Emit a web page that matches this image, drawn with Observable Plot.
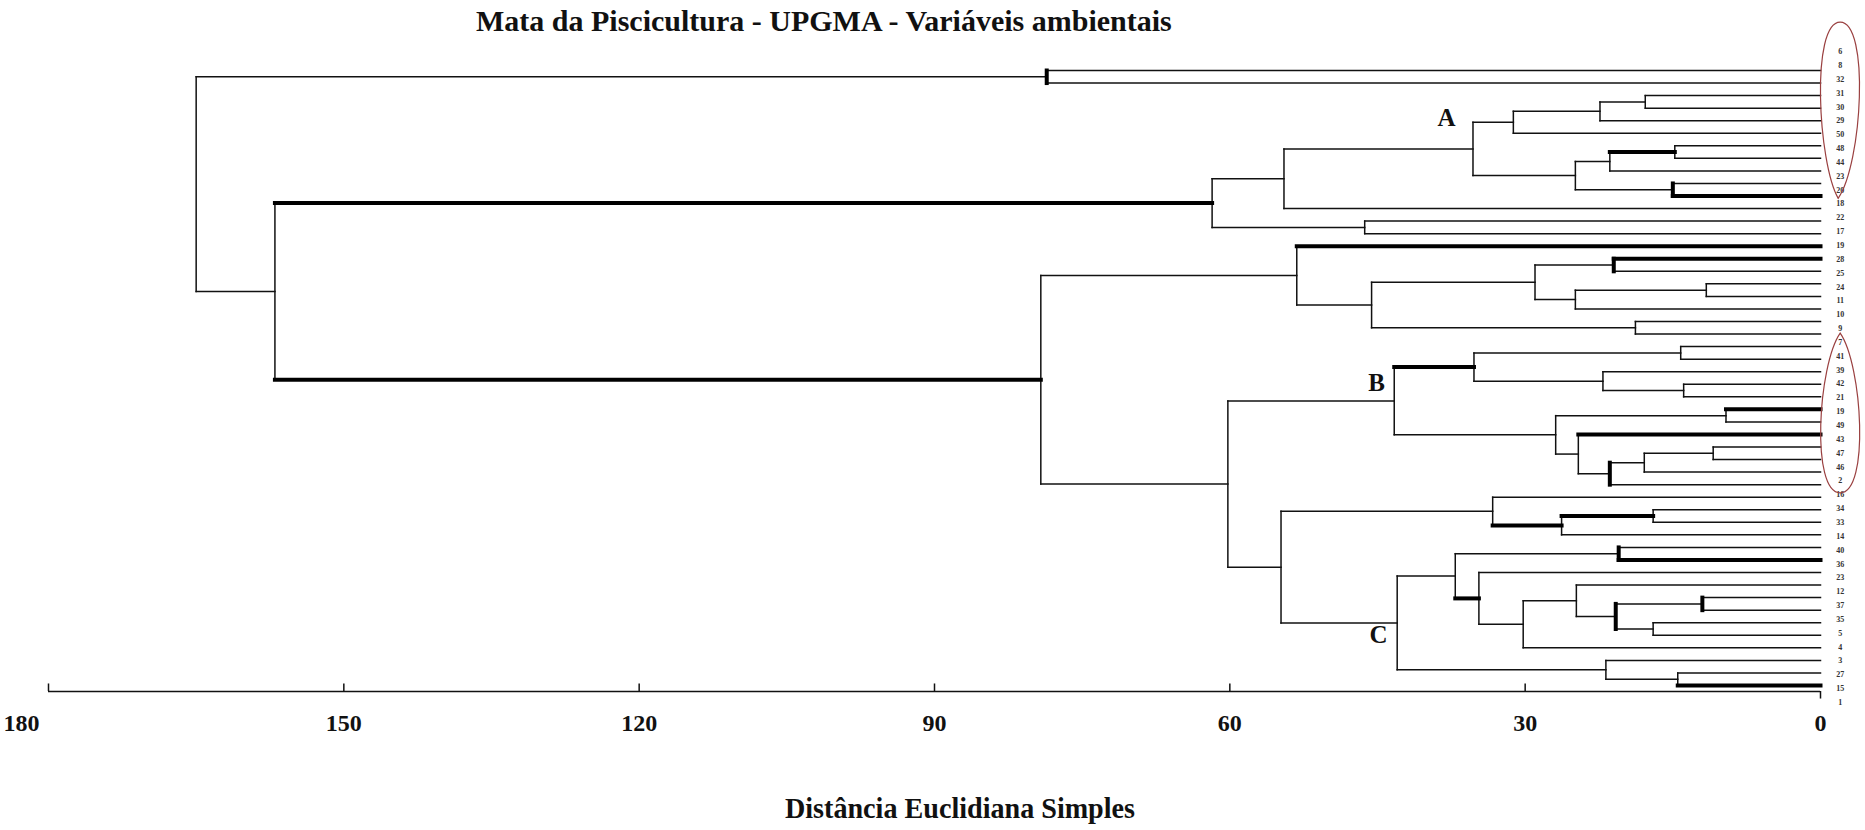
<!DOCTYPE html>
<html>
<head>
<meta charset="utf-8">
<script src="https://cdn.jsdelivr.net/npm/d3@7"></script>
<script src="https://cdn.jsdelivr.net/npm/@observablehq/plot@0.6"></script>
<style>
  html, body { margin: 0; padding: 0; background: #fff; }
  body { width: 1865px; height: 830px; overflow: hidden; position: relative; font-family: "Liberation Serif", "DejaVu Serif", serif; }
  #title { position: absolute; left: 0; top: 0; display: block; }
  #xtitle { display: block; }
  #chart svg { display: block; }
</style>
</head>
<body>
<div id="chart"></div>
<svg id="xtitle" width="1865" height="40"></svg>
<svg id="title" width="1865" height="42"></svg>
<script>
// ---------- data ----------
const leafCount = 50;

// labels column, top to bottom, as printed at the right of the dendrogram
const leafLabels = ["6","8","32","31","30","29","50","48","44","23","20","18","22","17","19","28","25","24","11","10",
  "9","7","41","39","42","21","19","49","43","47","46","2","16","34","33","14","40","36","23","12",
  "37","35","5","4","3","27","15","1"];

// UPGMA merges: [id, child A, child B, distance]; numbers = leaf rows (top to bottom)
const merges = [
  ["m0", 0, 1, 78.6],
  ["m1", 2, 3, 17.8],
  ["m2", "m1", 4, 22.4],
  ["m3", "m2", 5, 31.2],
  ["m4", 6, 7, 14.8],
  ["m5", "m4", 8, 21.4],
  ["m6", 9, 10, 15.0],
  ["m7", "m5", "m6", 24.9],
  ["m8", "m3", "m7", 35.3],
  ["m9", "m8", 11, 54.5],
  ["m10", 12, 13, 46.3],
  ["m11", "m9", "m10", 61.8],
  ["m12", 15, 16, 21.0],
  ["m13", 17, 18, 11.6],
  ["m14", "m13", 19, 24.9],
  ["m15", "m12", "m14", 29.0],
  ["m16", 20, 21, 18.8],
  ["m17", "m15", "m16", 45.6],
  ["m18", 14, "m17", 53.2],
  ["m19", 22, 23, 14.2],
  ["m20", 25, 26, 13.9],
  ["m21", 24, "m20", 22.1],
  ["m22", "m19", "m21", 35.2],
  ["m23", 27, 28, 9.6],
  ["m24", 30, 31, 10.9],
  ["m25", "m24", 32, 17.9],
  ["m26", "m25", 33, 21.4],
  ["m27", 29, "m26", 24.6],
  ["m28", "m23", "m27", 26.9],
  ["m29", "m22", "m28", 43.3],
  ["m30", 35, 36, 17.0],
  ["m31", "m30", 37, 26.3],
  ["m32", 34, "m31", 33.3],
  ["m33", 38, 39, 20.5],
  ["m34", 42, 43, 12.0],
  ["m35", 44, 45, 17.0],
  ["m36", "m34", "m35", 20.8],
  ["m37", 41, "m36", 24.8],
  ["m38", "m37", 46, 30.2],
  ["m39", 40, "m38", 34.7],
  ["m40", "m33", "m39", 37.1],
  ["m41", 48, 49, 14.5],
  ["m42", 47, "m41", 21.8],
  ["m43", "m40", "m42", 43.0],
  ["m44", "m32", "m43", 54.8],
  ["m45", "m29", "m44", 60.2],
  ["m46", "m18", "m45", 79.2],
  ["m47", "m11", "m46", 157.0],
  ["m48", "m0", "m47", 165.0]
];

// links drawn heavier in the original figure
const boldLinks = ["m4", 10, "m11", "m46", 14, 15, "m22", 29, 27, "m30", "m31", 39, "m39", 49];
const boldVerticals = ["m0", "m6", "m12", "m26", "m33", "m34", "m36"];

const xTicks = [180, 150, 120, 90, 60, 30, 0];

const clusterLetters = [
  {text: "A", d: 38.0, row: 3.75},
  {text: "B", d: 45.1, row: 24.9},
  {text: "C", d: 44.9, row: 45.0}
];

// label groups circled in red (indices in leafLabels) and where the loop is pointed
const circledGroups = [
  {first: 0, last: 10, padTop: 2.3, padBottom: 0.7, point: "bottom"},
  {first: 21, last: 31, padTop: 0.7, padBottom: 1.0, point: "top"}
];

// ---------- layout ----------
const axisRow = 49.48;           // row level of the x axis line
const labelFirstRow = -1.51, labelRowStep = 1.1035;  // label column spacing (in leaf rows)

const pos = new Map(), hgt = new Map();
for (let i = 0; i < leafCount; i++) { pos.set(i, i); hgt.set(i, 0); }
for (const [id, a, b, h] of merges) { pos.set(id, (pos.get(a) + pos.get(b)) / 2); hgt.set(id, h); }

const segs = [];
for (const [id, a, b, h] of merges) {
  segs.push({x1: h, x2: h, y1: pos.get(a), y2: pos.get(b), bold: boldVerticals.includes(id)});
  for (const c of [a, b]) {
    segs.push({x1: h, x2: hgt.get(c), y1: pos.get(c), y2: pos.get(c), bold: boldLinks.includes(c)});
  }
}

const labelRows = leafLabels.map((t, i) => ({t, row: labelFirstRow + i * labelRowStep}));

const serif = "Liberation Serif";
const chart = Plot.plot({
  width: 1865,
  height: 790,
  marginLeft: 48,
  marginRight: 45,
  marginTop: 70,
  marginBottom: 99,
  x: {domain: [180, 0], axis: null},
  y: {domain: [0, axisRow], reverse: true, axis: null},
  style: {background: "#fff", fontFamily: serif},
  marks: [
    Plot.link(segs.filter(d => !d.bold), {x1: "x1", y1: "y1", x2: "x2", y2: "y2", stroke: "#111", strokeWidth: 1.5, strokeLinecap: "square"}),
    Plot.link(segs.filter(d => d.bold), {x1: "x1", y1: "y1", x2: "x2", y2: "y2", stroke: "#000", strokeWidth: 4, strokeLinecap: "square"}),
    Plot.ruleY([axisRow], {x1: 180, x2: 0, stroke: "#111", strokeWidth: 1.6}),
    Plot.ruleX(xTicks.filter(t => t > 0), {x: d => d, y1: axisRow, y2: axisRow - 0.6, stroke: "#111", strokeWidth: 1.5}),
    Plot.ruleX(xTicks.filter(t => t === 0), {x: d => d, y1: axisRow, y2: axisRow + 0.6, stroke: "#111", strokeWidth: 1.5}),
    Plot.text(xTicks.filter(t => t < 180), {x: d => d, y: 52.0, text: d => String(d), fontSize: 24, fontWeight: "bold", fontFamily: serif, fill: "#111"}),
    Plot.text(xTicks.filter(t => t === 180), {x: d => d, y: 52.0, dx: -27, text: d => String(d), fontSize: 24, fontWeight: "bold", fontFamily: serif, fill: "#111"}),
    Plot.text(labelRows, {x: -2.0, y: "row", text: "t", fontSize: 8, fontWeight: "bold", fontFamily: serif, fill: "#333"}),
    Plot.text(clusterLetters, {x: "d", y: "row", text: "text", fontSize: 25, fontWeight: "bold", fontFamily: serif, fill: "#111"})
  ]
});
document.getElementById("chart").appendChild(chart);

// red loops around label groups, positioned with the plot's own scales
const sx = chart.scale("x"), sy = chart.scale("y");
const svgSel = d3.select(chart);
for (const g of circledGroups) {
  const top = sy.apply(labelRows[g.first].row - g.padTop);
  const bot = sy.apply(labelRows[g.last].row + g.padBottom);
  const cx = sx.apply(-2.05);
  const rx = 18.5, h = bot - top;
  let d;
  if (g.point === "bottom") {
    d = `M${cx},${top} C${cx + 1.6 * rx},${top} ${cx + 1.2 * rx},${bot - 0.2 * h} ${cx - 2},${bot}` +
        ` C${cx - 1.2 * rx},${bot - 0.2 * h} ${cx - 1.6 * rx},${top} ${cx},${top} Z`;
  } else {
    d = `M${cx},${bot} C${cx + 1.6 * rx},${bot} ${cx + 1.2 * rx},${top + 0.2 * h} ${cx},${top}` +
        ` C${cx - 1.2 * rx},${top + 0.2 * h} ${cx - 1.6 * rx},${bot} ${cx},${bot} Z`;
  }
  svgSel.append("path").attr("d", d)
    .attr("fill", "none").attr("stroke", "#9a4040").attr("stroke-width", 1.2);
}

// titles
const t = d3.select("#title");
t.append("text").attr("x", 476).attr("y", 31)
  .attr("font-family", serif).attr("font-weight", "bold").attr("font-size", 30).attr("fill", "#111")
  .text("Mata da Piscicultura - UPGMA - Variáveis ambientais");
const xt = d3.select("#xtitle");
xt.append("text").attr("x", 960).attr("y", 28).attr("text-anchor", "middle")
  .attr("font-family", serif).attr("font-weight", "bold").attr("font-size", 29).attr("fill", "#111")
  .attr("textLength", 350).attr("lengthAdjust", "spacingAndGlyphs")
  .text("Distância Euclidiana Simples");
</script>
</body>
</html>
